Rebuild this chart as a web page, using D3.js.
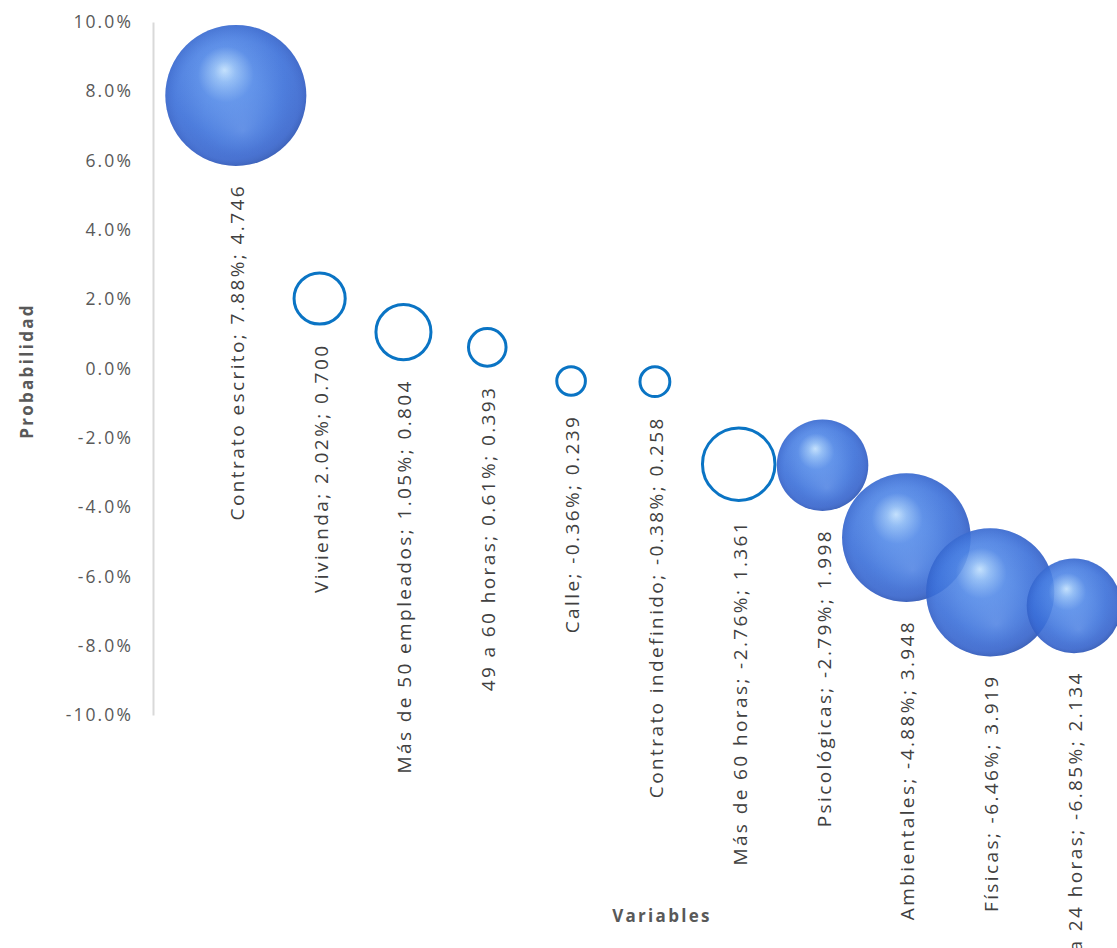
<!DOCTYPE html>
<html><head><meta charset="utf-8">
<script src="https://cdn.jsdelivr.net/npm/d3@7"></script>
<style>body{margin:0;background:#fff;}svg{display:block;}</style>
</head><body>
<svg id="c" width="1117" height="948"></svg>
<script>
const categories = ["Contrato escrito","Vivienda","Más de 50 empleados","49 a 60 horas","Calle","Contrato indefinido","Más de 60 horas","Psicológicas","Ambientales","Físicas","0 a 24 horas"];
const probValues = [0.0788,0.0202,0.0105,0.0061,-0.0036,-0.0038,-0.0276,-0.0279,-0.0488,-0.0646,-0.0685];
const bubbleSizes = [4.746,0.700,0.804,0.393,0.239,0.258,1.361,1.998,3.948,3.919,2.134];
const filled = [true,false,false,false,false,false,false,true,true,true,true];
const yTicks = [-0.10,-0.08,-0.06,-0.04,-0.02,0,0.02,0.04,0.06,0.08,0.10];

const svg = d3.select("#c");
const x = d3.scaleLinear().domain([0,11]).range([152,1074]);
const y = d3.scaleLinear().domain([-0.10,0.10]).range([715,22]);
const r = d3.scaleSqrt().domain([0,4.746]).range([0,70.5]);

const defs = svg.append("defs");
const g = defs.append("radialGradient").attr("id","sph")
  .attr("cx","0.45").attr("cy","0.42").attr("r","0.62").attr("fx","0.42").attr("fy","0.32");
[[0,"#c8e6ff"],[0.12,"#8fbcf5"],[0.32,"#4f86e6"],[0.65,"#3a6fd9"],[0.88,"#3563cc"],[1,"#2b54b2"]]
  .forEach(s=>g.append("stop").attr("offset",s[0]).attr("stop-color",s[1]));
const g2 = defs.append("radialGradient").attr("id","rim")
  .attr("cx","0.5").attr("cy","0.5").attr("r","0.5").attr("fx","0.55").attr("fy","0.75");
[[0,"rgba(140,180,245,0.35)"],[0.5,"rgba(110,160,240,0.12)"],[0.85,"rgba(60,100,200,0)"],[1,"rgba(30,60,150,0.15)"]]
  .forEach(s=>g2.append("stop").attr("offset",s[0]).attr("stop-color",s[1]));

// y axis
const yAxis = d3.axisLeft(y).tickValues(yTicks).tickFormat(d => d3.format(".1%")(d).replace("−","-")).tickSize(0).tickPadding(20);
const ya = svg.append("g").attr("transform","translate(153,0)").call(yAxis);
ya.select(".domain").attr("stroke","#d9d9d9").attr("stroke-width",2);
ya.selectAll("text").attr("font-family","'Open Sans',sans-serif").attr("font-size",17.5).attr("fill","#595959").attr("letter-spacing","2.1");

const data = categories.map((c,i)=>({c, v:probValues[i], s:bubbleSizes[i], f:filled[i]}));

const b = svg.append("g");
data.forEach((d,i)=>{
  const cx = x(i+1), cy = y(d.v), rr = r(d.s);
  if(d.f){
    b.append("circle").attr("cx",cx).attr("cy",cy).attr("r",rr).attr("fill","url(#sph)").attr("opacity",0.9);
    b.append("circle").attr("cx",cx).attr("cy",cy).attr("r",rr).attr("fill","url(#rim)");
  } else {
    b.append("circle").attr("cx",cx).attr("cy",cy).attr("r",rr-1.5).attr("fill","none").attr("stroke","#0a74c4").attr("stroke-width",3);
  }
});

const lab = svg.append("g");
data.forEach((d,i)=>{
  const cx = x(i+1), cy = y(d.v), rr = r(d.s);
  lab.append("text")
    .attr("transform",`translate(${cx+1},${cy+rr+18}) rotate(-90)`)
    .attr("text-anchor","end").attr("dominant-baseline","central")
    .attr("font-family","'Open Sans',sans-serif").attr("font-size",19).attr("fill","#404040")
    .attr("letter-spacing","2.4")
    .text(`${d.c}; ${(d.v*100).toFixed(2)}%; ${d.s.toFixed(3)}`);
});

svg.append("text").attr("transform","translate(26,371) rotate(-90)").attr("text-anchor","middle")
  .attr("dominant-baseline","central").attr("font-family","'Open Sans',sans-serif").attr("font-weight","bold")
  .attr("font-size",17).attr("fill","#595959").attr("letter-spacing","2.3").text("Probabilidad");
svg.append("text").attr("x",662).attr("y",915).attr("text-anchor","middle")
  .attr("dominant-baseline","central").attr("font-family","'Open Sans',sans-serif").attr("font-weight","bold")
  .attr("font-size",17).attr("fill","#595959").attr("letter-spacing","2.3").text("Variables");
</script>
</body></html>
